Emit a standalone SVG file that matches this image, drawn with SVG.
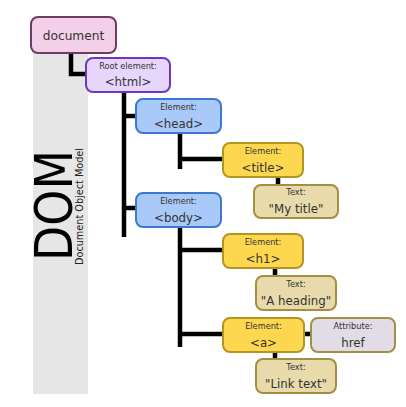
<svg xmlns="http://www.w3.org/2000/svg" width="406" height="407" viewBox="0 0 406 407">
<style>
.box{stroke-width:2}
.doc{fill:#f3d0e7;stroke:#6e3c63}
.root{fill:#e7d6fb;stroke:#7134c2}
.el{fill:#a9c9f8;stroke:#3b78d2}
.yel{fill:#fdd84f;stroke:#b39422}
.txt{fill:#e9daab;stroke:#a48e42}
.attr{fill:#e2dce7;stroke:#a29042}
text{font-family:"DejaVu Sans","Liberation Sans",sans-serif;fill:#333;text-anchor:middle}
.s{font-size:8.2px}
.m{font-size:11.8px}
.conn{stroke:#000;stroke-width:4.5;fill:none}
</style>
<rect width="406" height="407" fill="#fff"/>
<rect x="33" y="53" width="55" height="341" fill="#e6e6e6"/>
<text transform="translate(72,261) rotate(-90)" style="font-size:52px;text-anchor:start;fill:#000" textLength="111" lengthAdjust="spacingAndGlyphs">DOM</text>
<text transform="translate(82.5,265) rotate(-90)" style="font-size:10px;text-anchor:start;fill:#222" textLength="117" lengthAdjust="spacingAndGlyphs">Document Object Model</text>
<g id="connectors" class="conn">
<path d="M71 53V74H86"/>
<path d="M124 92V237"/>
<path d="M124 116H136"/>
<path d="M124 208H136"/>
<path d="M180 133V169"/>
<path d="M180 159H223"/>
<path d="M278 177V186"/>
<path d="M180 227V347"/>
<path d="M180 250H223"/>
<path d="M180 334H223"/>
<path d="M275 268V276"/>
<path d="M304 334H311"/>
<path d="M275 352V359"/>
</g>
<g id="document"><rect class="box doc" x="31" y="17" width="85" height="36" rx="7"/><text class="m" x="73.5" y="39.5" style="font-size:12.2px">document</text></g>
<g id="html"><rect class="box root" x="86" y="58" width="84" height="34" rx="7"/><text class="s" x="128" y="68.5">Root element:</text><text class="m" x="128" y="86">&lt;html&gt;</text></g>
<g id="head"><rect class="box el" x="136" y="99" width="85" height="34" rx="7"/><text class="s" x="178.5" y="109.5">Element:</text><text class="m" x="178.5" y="127.5">&lt;head&gt;</text></g>
<g id="title"><rect class="box yel" x="223" y="143" width="80" height="34" rx="7"/><text class="s" x="263" y="153.5">Element:</text><text class="m" x="263" y="171.5">&lt;title&gt;</text></g>
<g id="mytitle"><rect class="box txt" x="254" y="185" width="84" height="33" rx="7"/><text class="s" x="296" y="195">Text:</text><text class="m" x="296" y="213">"My title"</text></g>
<g id="body"><rect class="box el" x="136" y="193" width="85" height="34" rx="7"/><text class="s" x="178.5" y="203.5">Element:</text><text class="m" x="178.5" y="221.5">&lt;body&gt;</text></g>
<g id="h1"><rect class="box yel" x="223" y="234" width="80" height="34" rx="7"/><text class="s" x="263" y="244.5">Element:</text><text class="m" x="263" y="262.5">&lt;h1&gt;</text></g>
<g id="heading"><rect class="box txt" x="256" y="276" width="80" height="34" rx="7"/><text class="s" x="296" y="286.5">Text:</text><text class="m" x="296" y="304.5">"A heading"</text></g>
<g id="a"><rect class="box yel" x="223" y="318" width="81" height="34" rx="7"/><text class="s" x="263.5" y="328.5">Element:</text><text class="m" x="263.5" y="346.5">&lt;a&gt;</text></g>
<g id="href"><rect class="box attr" x="311" y="318" width="84" height="34" rx="7"/><text class="s" x="353" y="328.5">Attribute:</text><text class="m" x="353" y="346.5">href</text></g>
<g id="linktext"><rect class="box txt" x="256" y="359" width="80" height="34" rx="7"/><text class="s" x="296" y="369.5">Text:</text><text class="m" x="296" y="387.5">"Link text"</text></g>
</svg>
